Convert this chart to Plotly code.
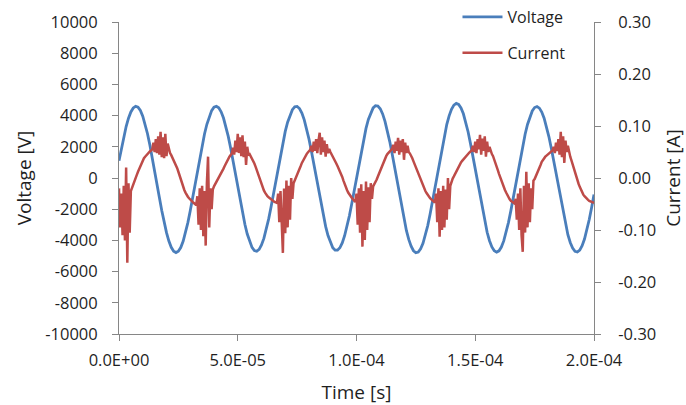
import plotly.graph_objects as go

# ---------------- data ----------------
x_title = "Time [s]"
y_title = "Voltage [V]"
y2_title = "Current [A]"
series_names = ["Voltage", "Current"]

x_tick_vals = [0.0, 5e-5, 1e-4, 1.5e-4, 2e-4]
x_tick_text = ["0.0E+00", "5.0E-05", "1.0E-04", "1.5E-04", "2.0E-04"]
y_tick_vals = [-10000, -8000, -6000, -4000, -2000, 0, 2000, 4000, 6000, 8000, 10000]
y_tick_text = ["-10000", "-8000", "-6000", "-4000", "-2000", "0", "2000", "4000", "6000", "8000", "10000"]
y2_tick_vals = [-0.30, -0.20, -0.10, 0.00, 0.10, 0.20, 0.30]
y2_tick_text = ["-0.30", "-0.20", "-0.10", "0.00", "0.10", "0.20", "0.30"]

# voltage samples [V], one every 1 us starting at t = 0
voltage_step_us = 1.0
voltage_c1 = [1102, 1909, 2651, 3298, 3833, 4236, 4492, 4598, 4538, 4324, 3960, 3458, 2837, 2119, 1328, 491,
              -377, -1253, -2085, -2843, -3503, -4044, -4445, -4693, -4780, -4699, -4456, -4060, -3520, -2861, -2104, -1275, -400]
voltage_c2 = [470, 1307, 2101, 2821, 3443, 3948, 4317, 4535, 4598, 4496, 4244, 3844, 3313, 2667, 1929, 1123, 278,
              -589, -1442, -2243, -2969, -3594, -4092, -4448, -4650, -4696, -4573, -4297, -3872, -3312, -2637, -1870, -1040, -93]
voltage_c3 = [681, 1511, 2291, 2988, 3581, 4052, 4382, 4562, 4588, 4451, 4161, 3725, 3161, 2489, 1731, 914, 64,
              -797, -1630, -2407, -3101, -3687, -4147, -4464, -4627, -4629, -4473, -4157, -3700, -3116, -2425, -1650, -818]
voltage_c4 = [43, 902, 1730, 2498, 3181, 3753, 4197, 4495, 4636, 4616, 4438, 4107, 3634, 3037, 2334, 1549, 711,
              -157, -1040, -1889, -2673, -3364, -3940, -4377, -4663, -4793, -4749, -4546, -4187, -3682, -3050, -2311, -1492, -623]
voltage_c5 = [267, 1145, 1984, 2755, 3428, 3985, 4403, 4669, 4779, 4716, 4494, 4116, 3594, 2949, 2203, 1381, 510,
              -375, -1245, -2072, -2825, -3481, -4019, -4417, -4663, -4750, -4669, -4428, -4034, -3498, -2843, -2091, -1267, -397]
voltage_c6 = [468, 1302, 2092, 2809, 3429, 3932, 4300, 4516, 4579, 4478, 4227, 3829, 3300, 2656, 1921, 1118, 277,
              -596, -1457, -2267, -3000, -3631, -4134, -4494, -4698, -4745, -4620, -4341, -3912, -3346, -2664, -1890, -1051]

# current samples [mA], one every 0.5 us starting at t = 0
current_step_us = 0.5
current_c1 = [-20, -95, -30, -110, -15, -120, 20, -163, -10, -105, -25,
              -18, -12, -6, 0, 6, 12, 18, 24, 30, 34, 38, 41, 44, 47, 49, 51, 53, 55,
              68, 50, 75, 48, 80, 45, 89, 40, 78, 38, 85, 42, 66,
              54, 48, 44, 39, 35, 31, 26, 19, 12, 4, -4, -11, -17, -23, -28, -33, -36, -39, -42, -44, -46, -48, -50]
current_c2 = [-52, -35, -90, -20, -100, -15, -112, -25, -130, -10, 41, -95, -20, -60,
              -22, -16, -12, -8, -4, 0, 4, 8, 13, 18, 23, 28, 32, 37, 41, 44, 47,
              58, 45, 72, 50, 85, 48, 78, 42, 82, 40, 70, 25, 60, 45,
              46, 42, 38, 34, 28, 22, 15, 9, 2, -5, -12, -19, -24, -28, -32, -35, -37, -39, -41, -43, -45, -46, -47]
current_c3 = [-48, -30, -85, -25, -100, -144, -20, -106, -5, -95, -15, -80, 0, -40,
              -10, -5, 0, 5, 11, 17, 23, 29, 34, 38, 42, 46, 49, 52, 54,
              62, 50, 70, 52, 75, 48, 72, 87, 45, 78, 50, 72, 41, 65, 48, 56,
              50, 46, 42, 38, 33, 28, 23, 18, 14, 8, 2, -5, -12, -18, -23, -28, -32, -35, -38, -41, -44]
current_c4 = [-46, -30, -90, -20, -105, -12, -132, -25, -119, -7, -100, -18, -85, -10, -40,
              -16, -12, -8, -3, 3, 9, 15, 21, 27, 32, 37, 42, 46, 49, 52, 54, 56,
              64, 48, 70, 52, 77, 45, 72, 50, 75, 35, 68, 48, 62, 50,
              47, 43, 38, 32, 26, 20, 14, 9, 3, -3, -9, -15, -20, -25, -29, -33, -36, -39, -41, -43, -45, -47]
current_c5 = [-30, -85, -20, -113, -25, -100, -15, -95, -22, -80, 0, -60, -15,
              -5, -1, 3, 8, 13, 18, 22, 26, 30, 33, 36, 39, 42, 45, 47, 49, 51, 53,
              62, 50, 70, 48, 75, 55, 83, 45, 76, 52, 80, 41, 70, 50, 60,
              52, 46, 42, 36, 29, 22, 15, 8, 1, -5, -11, -17, -23, -28, -33, -37, -41, -44, -46, -48, -49]
current_c6 = [-40, -80, -30, -100, -20, -110, -142, -15, -105, 12, -95, -10, -85, -20, -60, -5,
              -2, 3, 7, 13, 19, 25, 31, 35, 38, 41, 43, 45, 47, 49, 51, 53,
              60, 48, 68, 52, 75, 45, 89, 40, 80, 29, 72, 50, 62,
              50, 41, 34, 26, 19, 11, 3, -4, -11, -17, -23, -28, -32, -35, -38, -40, -42, -44, -45, -46, -47, -48]

# ---------------- build ----------------
voltage_V = voltage_c1 + voltage_c2 + voltage_c3 + voltage_c4 + voltage_c5 + voltage_c6
current_mA = current_c1 + current_c2 + current_c3 + current_c4 + current_c5 + current_c6
assert len(voltage_V) == 201, len(voltage_V)
assert len(current_mA) == 401, len(current_mA)

t_voltage = [i * voltage_step_us * 1e-6 for i in range(len(voltage_V))]
t_current = [i * current_step_us * 1e-6 for i in range(len(current_mA))]
current_A = [v / 1000.0 for v in current_mA]

FONT = "Open Sans"
TXT = "#1f1f1f"
AX = "#868686"

fig = go.Figure()
fig.add_trace(go.Scatter(x=t_voltage, y=voltage_V, mode="lines", name=series_names[0],
                         line=dict(color="#4A7EBB", width=2.8), legend="legend", yaxis="y"))
fig.add_trace(go.Scatter(x=t_current, y=current_A, mode="lines", name=series_names[1],
                         line=dict(color="#BE4B48", width=2.5), legend="legend2", yaxis="y2"))

axis_common = dict(showgrid=False, zeroline=False, showline=True, linecolor=AX, linewidth=1,
                   ticks="outside", ticklen=6, tickcolor=AX, tickwidth=1, automargin=False,
                   tickfont=dict(family=FONT, size=16.5, color=TXT))

fig.update_layout(
    width=686, height=405,
    margin=dict(l=119, r=92, t=22, b=71, autoexpand=False),
    paper_bgcolor="white", plot_bgcolor="white",
    font=dict(family=FONT, color=TXT),
    xaxis=dict(range=[0, 2e-4], tickmode="array", tickvals=x_tick_vals, ticktext=x_tick_text,
               ticklabelstandoff=5,
               title=dict(text=x_title, font=dict(family=FONT, size=19, color=TXT), standoff=18),
               **axis_common),
    yaxis=dict(range=[-10000, 10000], tickmode="array", tickvals=y_tick_vals, ticktext=y_tick_text,
               ticklabelstandoff=11,
               title=dict(text=y_title, font=dict(family=FONT, size=19, color=TXT), standoff=8),
               **axis_common),
    yaxis2=dict(range=[-0.3, 0.3], tickmode="array", tickvals=y2_tick_vals, ticktext=y2_tick_text,
                overlaying="y", side="right", anchor="x", ticklabelstandoff=14,
                title=dict(text=y2_title, font=dict(family=FONT, size=19, color=TXT), standoff=16),
                **axis_common),
    legend=dict(x=0.7126, y=1.016, xanchor="left", yanchor="middle", bgcolor="rgba(0,0,0,0)",
                font=dict(family=FONT, size=16, color=TXT), itemwidth=40),
    legend2=dict(x=0.7126, y=0.901, xanchor="left", yanchor="middle", bgcolor="rgba(0,0,0,0)",
                 font=dict(family=FONT, size=16, color=TXT), itemwidth=40),
    showlegend=True,
    hovermode=False,
)

fig.write_html("out.html", config={"displayModeBar": False},
               post_script="document.body.style.margin='0px';document.body.style.padding='0px';")
